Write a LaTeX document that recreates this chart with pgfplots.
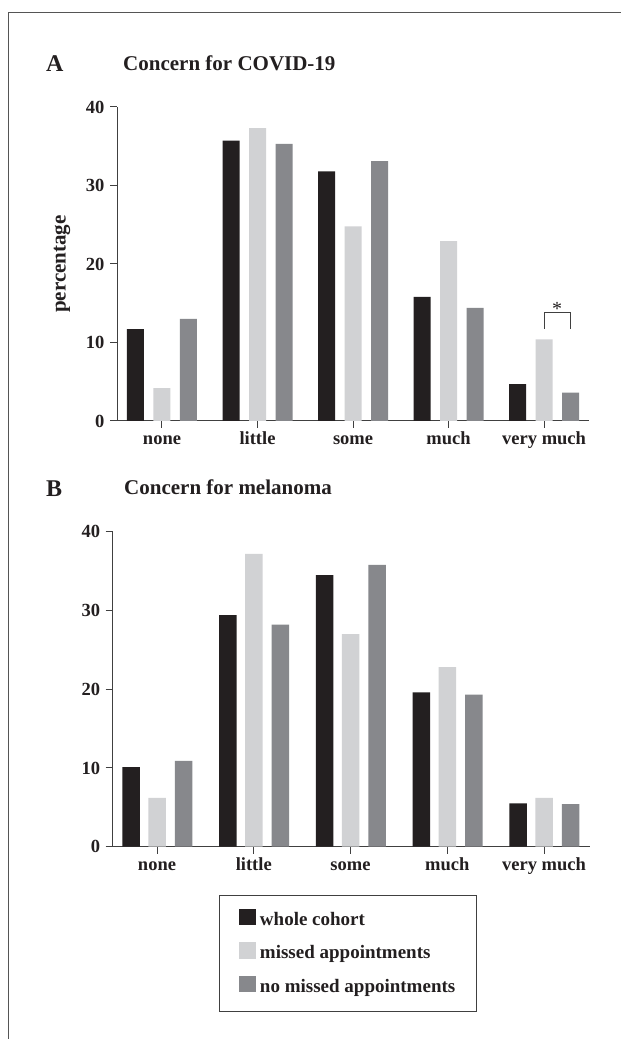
\documentclass[border=0pt]{standalone}
\usepackage{fontspec}
\setmainfont{Liberation Serif}
\usepackage{pgfplots}
\pgfplotsset{compat=1.18}
\usepackage{pgfplotstable}
\definecolor{cblack}{HTML}{231F20}
\definecolor{clight}{HTML}{D1D2D4}
\definecolor{cgray}{HTML}{87888C}
\definecolor{axcol}{HTML}{404040}
\definecolor{framecol}{HTML}{555555}
\definecolor{txt}{HTML}{231F20}

\pgfplotstableread{
x w m n
0 11.7 4.2 13.0
1 35.7 37.3 35.3
2 31.8 24.8 33.1
3 15.8 22.9 14.4
4 4.7 10.4 3.6
}\dataA
\pgfplotstableread{
x w m n
0 10.1 6.2 10.9
1 29.4 37.2 28.2
2 34.5 27.0 35.8
3 19.6 22.8 19.3
4 5.5 6.2 5.4
}\dataB

\pgfplotsset{
  myaxis/.style={
    scale only axis,
    ymin=0, ymax=40, ytick={0,10,20,30,40},
    xtick={0,1,2,3,4},
    xticklabels={none,little,some,much,very much},
    axis lines*=left,
    axis line style={axcol, line width=1pt},
    tick style={axcol, line width=1pt},
    major tick length=7pt, tick align=outside,
    /pgf/number format/assume math mode=true,
    tick label style={font=\fontsize{18.5}{20}\selectfont\bfseries, text=txt},
    xticklabel style={text height=13pt, text depth=4pt},
    yticklabel style={xshift=-2pt},
    clip=false,
  }
}

\begin{document}
\color{txt}
\begin{tikzpicture}
\useasboundingbox (0pt,0pt) rectangle (621pt,1039pt);
\fill[white] (0pt,0pt) rectangle (621pt,1039pt);
\draw[framecol, line width=1.2pt] (8.5pt,0pt) -- (8.5pt,1026.5pt) -- (621pt,1026.5pt);

\node[anchor=base west, inner sep=0pt, font=\fontsize{24}{28}\selectfont\bfseries] at (46pt,967.5pt) {A};
\node[anchor=base west, inner sep=0pt, font=\fontsize{21}{24}\selectfont\bfseries] at (123pt,968pt) {Concern for COVID-19};
\node[anchor=base west, inner sep=0pt, font=\fontsize{24}{28}\selectfont\bfseries] at (46pt,542pt) {B};
\node[anchor=base west, inner sep=0pt, font=\fontsize{21}{24}\selectfont\bfseries] at (124pt,544.5pt) {Concern for melanoma};

\begin{axis}[myaxis,
  at={(117pt,618pt)}, anchor=south west,
  width=472pt, height=314pt,
  xmin=-0.471, xmax=4.47,
  ylabel={percentage},
  ylabel style={at={(axis description cs:-0.1165,0.5)}, anchor=center, font=\fontsize{21}{24}\selectfont\bfseries},
]
\addplot[ybar, bar width=17pt, bar shift=-26.5pt, fill=cblack, draw=none] table[x=x,y=w]{\dataA};
\addplot[ybar, bar width=17pt, bar shift=0pt, fill=clight, draw=none] table[x=x,y=m]{\dataA};
\addplot[ybar, bar width=17pt, bar shift=26.5pt, fill=cgray, draw=none] table[x=x,y=n]{\dataA};
\draw[axcol, line width=1pt] (axis cs:4,11.75) -- (axis cs:4,13.8) -- (axis cs:4.272,13.8) -- (axis cs:4.272,11.75);
\node[anchor=base, inner sep=0pt, font=\fontsize{20}{22}\selectfont] at (axis cs:4.136,13.5) {*};
\end{axis}

\begin{axis}[myaxis,
  at={(112.7pt,192.3pt)}, anchor=south west,
  width=477.3pt, height=315pt,
  xmin=-0.458, xmax=4.475,
  legend cell align=left,
  legend style={at={(axis description cs:0.2233,-0.1533)}, anchor=north west,
    draw=axcol, line width=1pt, fill=white,
    inner xsep=19.7pt, inner ysep=13.3pt, row sep=11pt, column sep=2pt,
    font=\fontsize{19}{21}\selectfont\bfseries, text=txt,
    nodes={inner sep=2pt, text height=13pt, text depth=4pt}},
]
\addlegendimage{legend image code/.code={\fill[cblack] (0pt,-4pt) rectangle (15.5pt,11.5pt);}}
\addlegendentry{whole cohort}
\addlegendimage{legend image code/.code={\fill[clight] (0pt,-4pt) rectangle (15.5pt,11.5pt);}}
\addlegendentry{missed appointments}
\addlegendimage{legend image code/.code={\fill[cgray] (0pt,-4pt) rectangle (15.5pt,11.5pt);}}
\addlegendentry{no missed appointments}
\addplot[ybar, bar width=17.5pt, bar shift=-26pt, fill=cblack, draw=none, forget plot] table[x=x,y=w]{\dataB};
\addplot[ybar, bar width=17.5pt, bar shift=0pt, fill=clight, draw=none, forget plot] table[x=x,y=m]{\dataB};
\addplot[ybar, bar width=17.5pt, bar shift=26.5pt, fill=cgray, draw=none, forget plot] table[x=x,y=n]{\dataB};
\end{axis}
\end{tikzpicture}
\end{document}
